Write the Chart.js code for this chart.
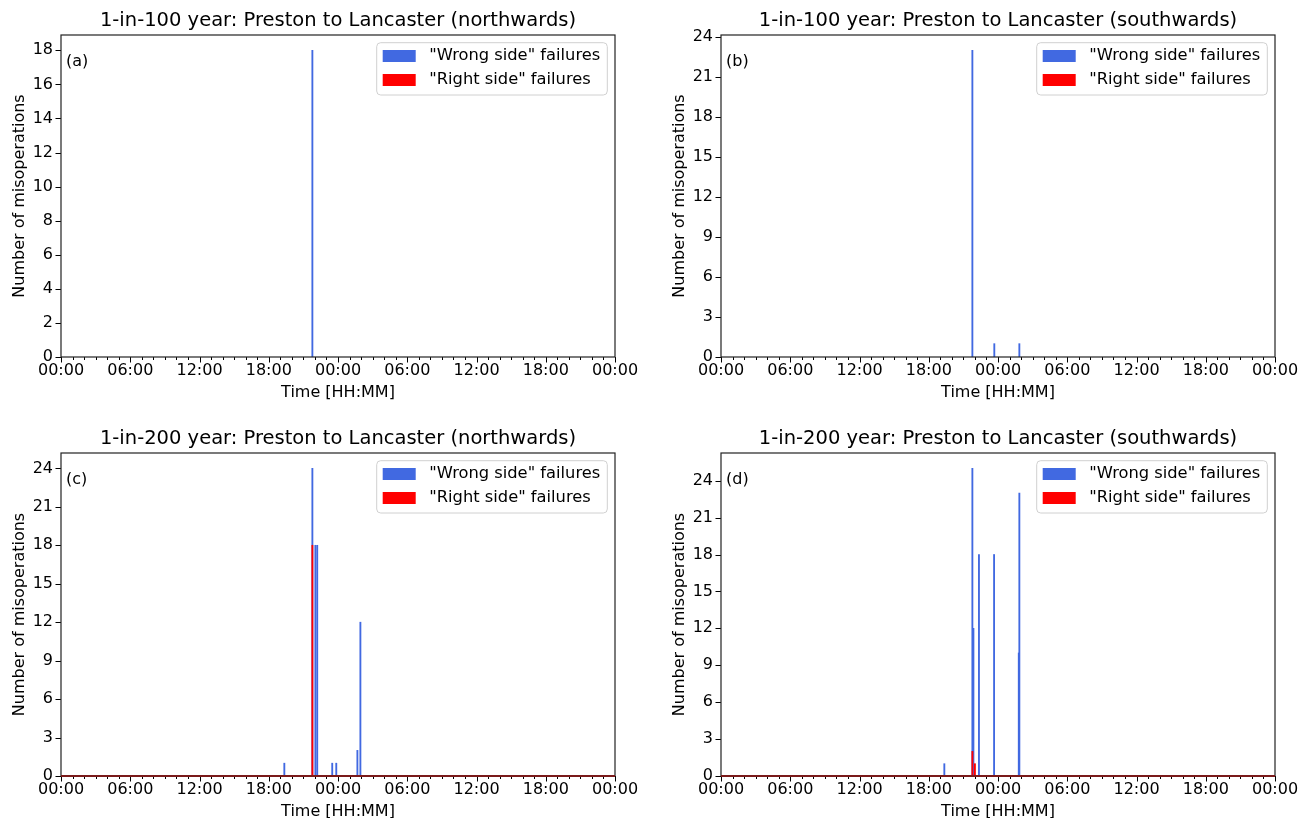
<!DOCTYPE html>
<html><head><meta charset="utf-8">
<script src="https://cdn.jsdelivr.net/npm/chart.js@4"></script>
<style>
html,body{margin:0;padding:0;background:#fff;overflow:hidden;width:1302px;height:818px;position:relative;}
canvas{position:absolute;}
</style></head><body>
<canvas id="ca" width="676" height="409" style="left:0px;top:0px;width:676px;height:409px"></canvas>
<canvas id="cb" width="676" height="409" style="left:660px;top:0px;width:676px;height:409px"></canvas>
<canvas id="cc" width="676" height="410" style="left:0px;top:418px;width:676px;height:410px"></canvas>
<canvas id="cd" width="676" height="410" style="left:660px;top:418px;width:676px;height:410px"></canvas>
<script>
// ---- data (time = hours since 00:00 of the first day) ----
const tickLabels = ["00:00","06:00","12:00","18:00","00:00","06:00","12:00","18:00","00:00"];
const titles = [
  "1-in-100 year: Preston to Lancaster (northwards)",
  "1-in-100 year: Preston to Lancaster (southwards)",
  "1-in-200 year: Preston to Lancaster (northwards)",
  "1-in-200 year: Preston to Lancaster (southwards)"
];
const panelLetters = ["(a)","(b)","(c)","(d)"];
const seriesLabels = ['"Wrong side" failures', '"Right side" failures'];

const wrongTimesA = [21.78];
const wrongCountsA = [18];
const rightTimesA = [];
const rightCountsA = [];

const wrongTimesB = [21.78, 23.68, 25.85];
const wrongCountsB = [23, 1, 1];
const rightTimesB = [];
const rightCountsB = [];

const wrongTimesC = [19.35, 21.78, 22.04, 22.2, 23.5, 23.85, 25.68, 25.94];
const wrongCountsC = [1, 24, 18, 18, 1, 1, 2, 12];
const rightTimesC = [21.78];
const rightCountsC = [18];

const wrongTimesD = [19.35, 21.78, 21.87, 22.35, 23.66, 25.8, 25.85];
const wrongCountsD = [1, 25, 12, 18, 18, 10, 23];
const rightTimesD = [21.78, 22.0];
const rightCountsD = [2, 1];

const yMax = [18.9, 24.15, 25.2, 26.25];
const yStep = [2, 3, 3, 3];

Chart.defaults.font.family = '"DejaVu Sans", sans-serif';
Chart.defaults.color = '#000';

const framePlugin = {
  id: 'axesFrame',
  afterDatasetsDraw(chart, args, opts) {
    const {ctx, chartArea: a, scales: {x, y}} = chart;
    ctx.save();
    ctx.strokeStyle = '#000';
    ctx.lineWidth = 1;
    ctx.beginPath();
    for (let h = 0; h <= 48; h++) {
      const px = Math.round(x.getPixelForValue(h)) + 0.5;
      const len = h % 6 === 0 ? 5.5 : 3;
      ctx.moveTo(px, a.bottom); ctx.lineTo(px, a.bottom + len);
    }
    y.ticks.forEach(t => {
      const py = Math.round(y.getPixelForValue(t.value)) + 0.5;
      ctx.moveTo(a.left, py); ctx.lineTo(a.left - 5.5, py);
    });
    ctx.stroke();
    ctx.lineWidth = 1.2;
    ctx.strokeStyle = '#222';
    ctx.strokeRect(a.left, a.top, a.right - a.left, a.bottom - a.top);
    if (opts.bottomColor) {
      ctx.beginPath();
      ctx.strokeStyle = opts.bottomColor;
      ctx.lineWidth = 2;
      ctx.moveTo(a.left, a.bottom); ctx.lineTo(a.right, a.bottom);
      ctx.stroke();
    }
    // title centred over the axes
    ctx.fillStyle = '#000';
    ctx.textBaseline = 'middle';
    ctx.textAlign = 'center';
    ctx.font = '19.5px "DejaVu Sans"';
    ctx.fillText(opts.title, (a.left + a.right) / 2, a.top - 14.5);
    // panel letter
    ctx.font = '16px "DejaVu Sans"';
    ctx.textAlign = 'left';
    ctx.fillText(opts.letter, a.left + 5, a.top + 27);
    // legend
    ctx.font = '16.3px "DejaVu Sans"';
    const w = 230.6, hgt = 52.3;
    const lx = a.right - 7.7 - w, ly = a.top + 7.7;
    ctx.beginPath();
    if (ctx.roundRect) ctx.roundRect(lx, ly, w, hgt, 4); else ctx.rect(lx, ly, w, hgt);
    ctx.fillStyle = 'rgba(255,255,255,0.8)';
    ctx.fill();
    ctx.strokeStyle = '#d0d0d0';
    ctx.lineWidth = 1;
    ctx.stroke();
    chart.data.datasets.forEach((ds, i) => {
      const cy = ly + 13.3 + i * 24;
      ctx.fillStyle = ds.backgroundColor;
      ctx.fillRect(lx + 6, cy - 6, 33, 12);
      ctx.fillStyle = '#000';
      ctx.fillText(ds.label, lx + 52.6, cy);
    });
    ctx.restore();
  }
};

function makeChart(id, idx, wt, wc, rt, rc, bottomColor) {
  new Chart(document.getElementById(id), {
    type: 'bar',
    data: {
      datasets: [
        {label: seriesLabels[0], data: wt.map((t, i) => ({x: t, y: wc[i]})), backgroundColor: '#4169E1', order: 1},
        {label: seriesLabels[1], data: rt.map((t, i) => ({x: t, y: rc[i]})), backgroundColor: '#FF0000', order: 0}
      ]
    },
    options: {
      responsive: false,
      animation: false,
      devicePixelRatio: 1,
      layout: {padding: {left: 0, right: 61, top: 35, bottom: 0}},
      datasets: {bar: {barThickness: 1.2, grouped: false}},
      scales: {
        x: {
          type: 'linear', min: 0, max: 48, offset: false,
          grid: {display: false, drawTicks: false},
          border: {display: false},
          ticks: {stepSize: 6, autoSkip: false, maxRotation: 0, padding: 4.5, font: {size: 16}, color: '#000',
                  callback: v => tickLabels[Math.round(v / 6)]},
          title: {display: true, text: 'Time [HH:MM]', font: {size: 16}, color: '#000', padding: {top: 0, bottom: 6.8}},
          afterFit: s => { s.height = 52; }
        },
        y: {
          min: 0, max: yMax[idx],
          grid: {display: false, drawTicks: false},
          border: {display: false},
          ticks: {stepSize: yStep[idx], includeBounds: false, padding: 8, font: {size: 16}, color: '#000'},
          title: {display: true, text: 'Number of misoperations', font: {size: 16}, color: '#000', padding: {top: 10.4, bottom: 0}},
          afterFit: s => { s.width = 61; }
        }
      },
      plugins: {
        legend: {display: false},
        tooltip: {enabled: false},
        title: {display: false},
        axesFrame: {letter: panelLetters[idx], title: titles[idx], bottomColor: bottomColor}
      }
    },
    plugins: [framePlugin]
  });
}

makeChart('ca', 0, wrongTimesA, wrongCountsA, rightTimesA, rightCountsA, null);
makeChart('cb', 1, wrongTimesB, wrongCountsB, rightTimesB, rightCountsB, null);
makeChart('cc', 2, wrongTimesC, wrongCountsC, rightTimesC, rightCountsC, '#7a1a1a');
makeChart('cd', 3, wrongTimesD, wrongCountsD, rightTimesD, rightCountsD, '#7a1a1a');
</script>
</body></html>
